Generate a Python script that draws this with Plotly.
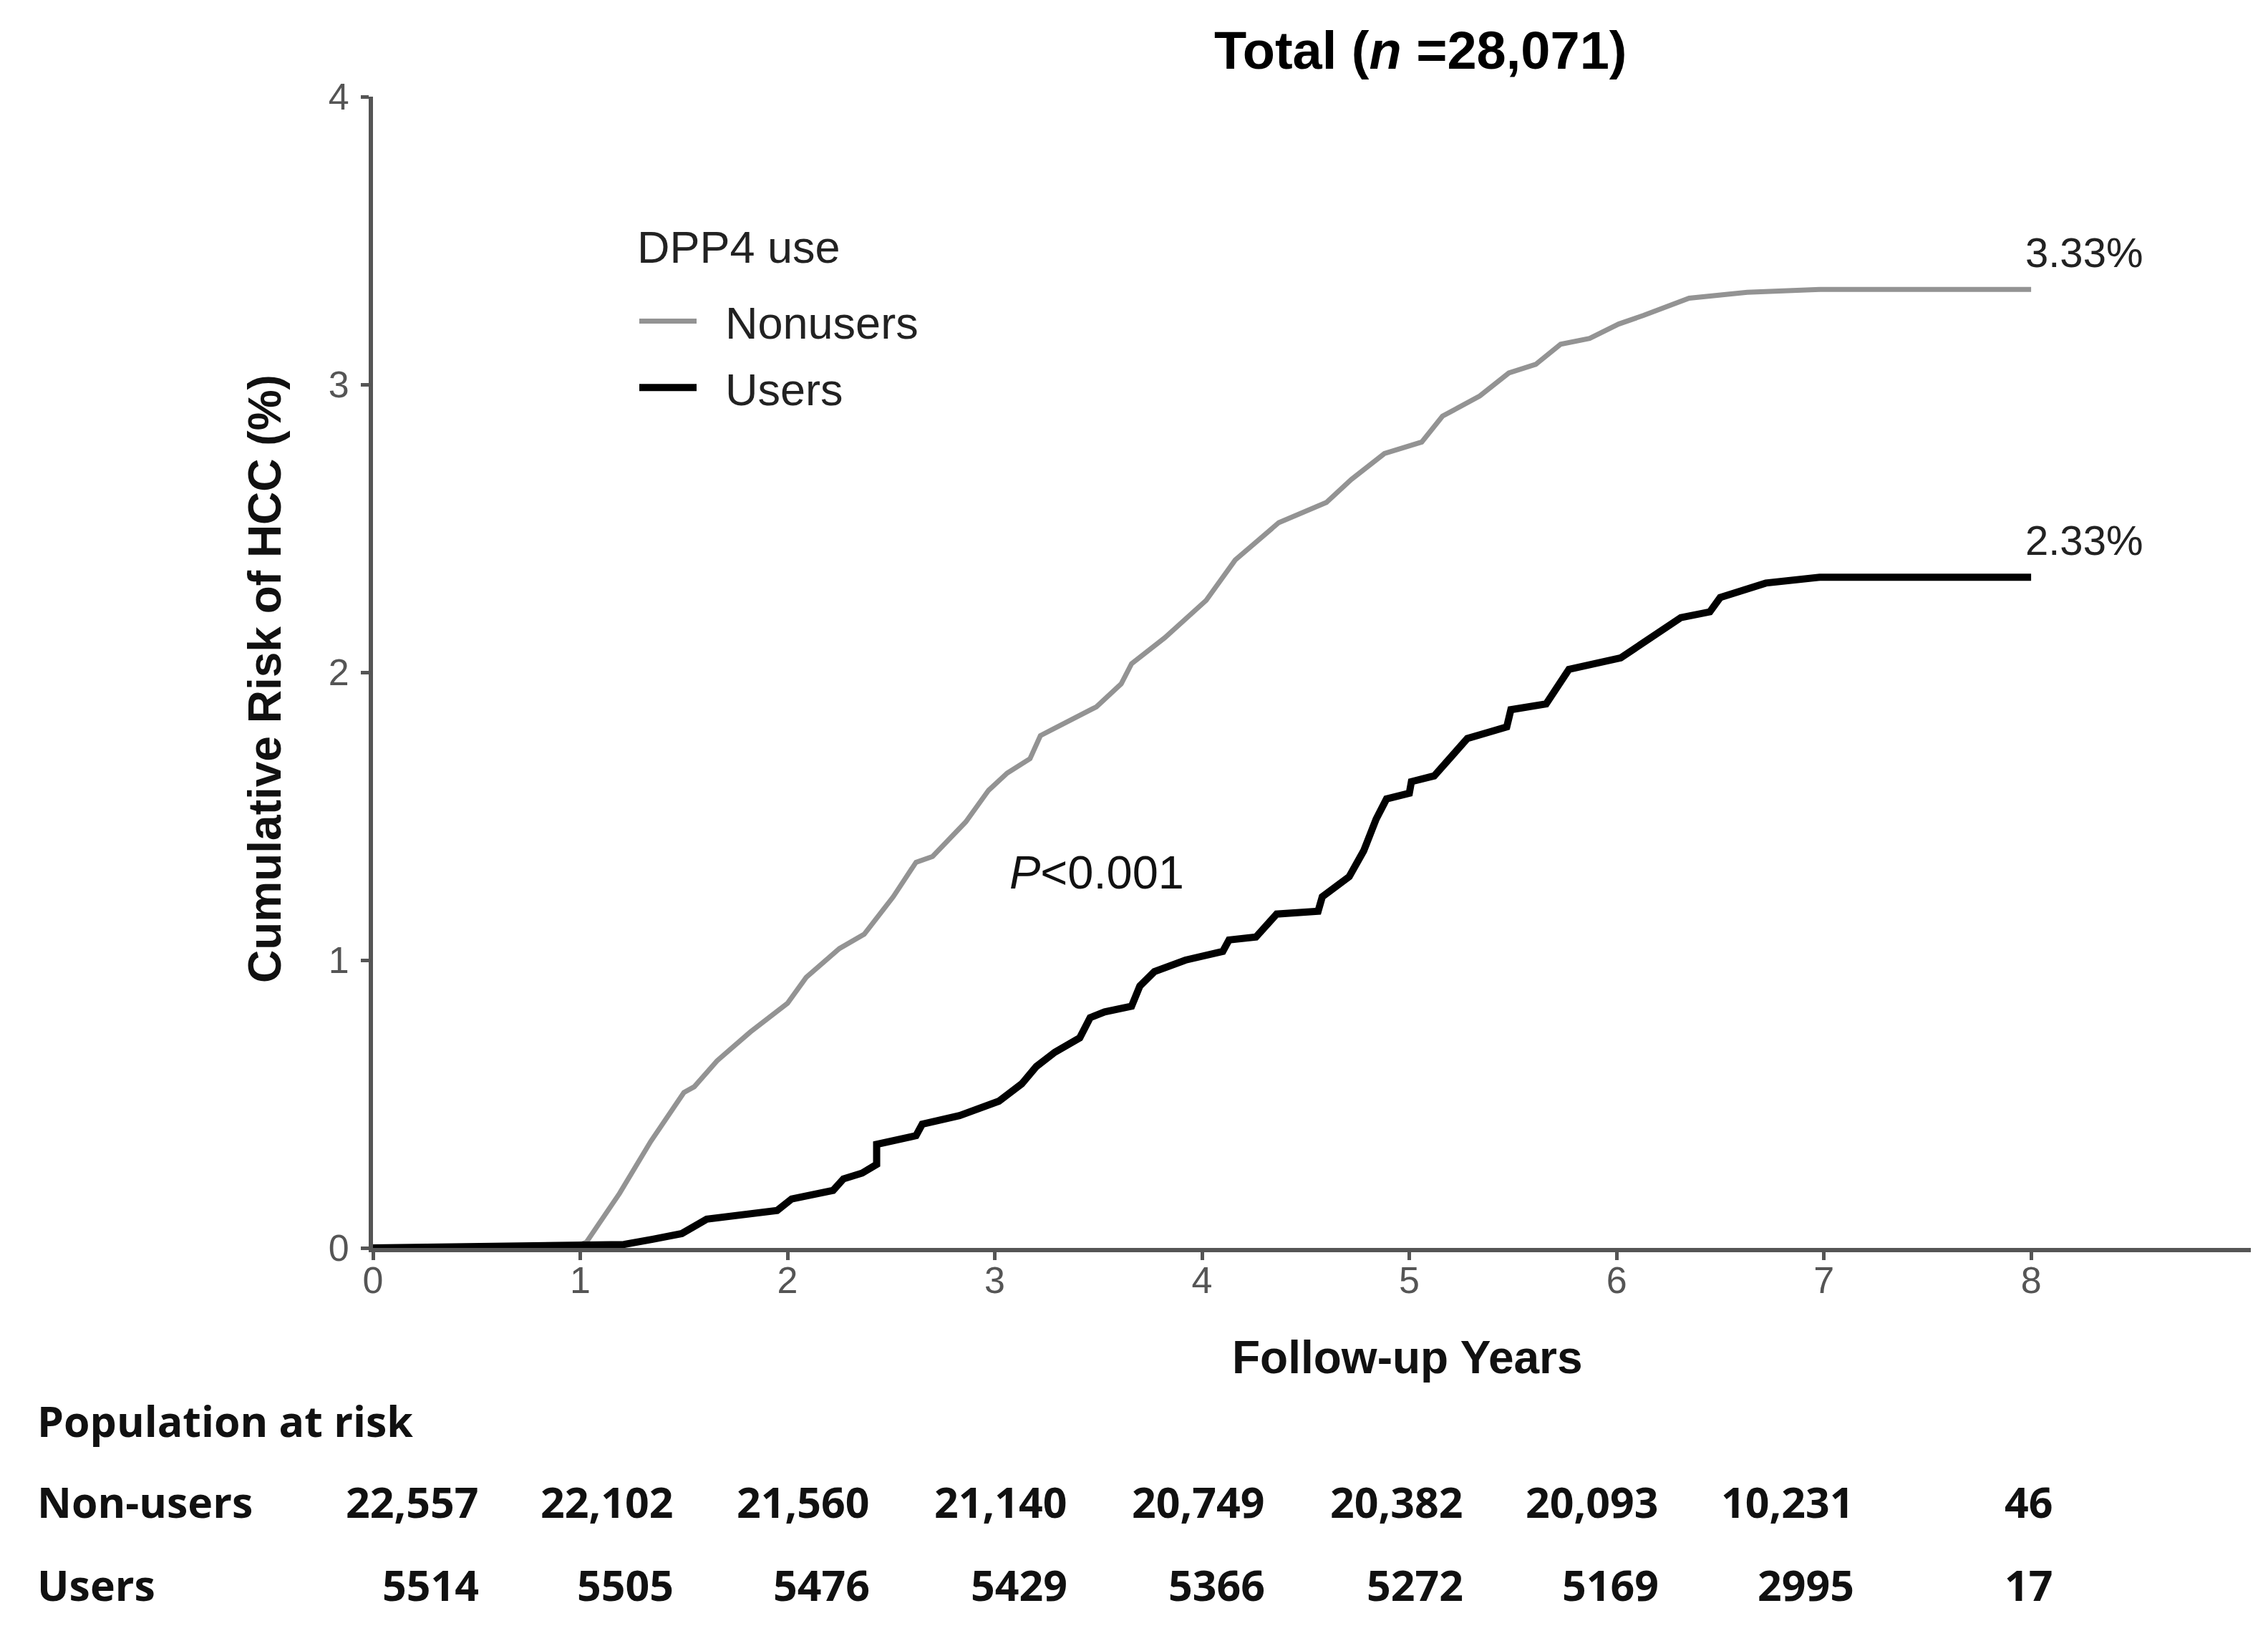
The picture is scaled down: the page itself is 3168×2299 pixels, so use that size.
import plotly.graph_objects as go

# ---------------- data ----------------
nonusers_x = [0, 0.25, 0.6, 1.0, 1.03, 1.19, 1.34, 1.50, 1.55, 1.66, 1.82, 2.0, 2.09, 2.25, 2.37,
              2.51, 2.62, 2.70, 2.86, 2.97, 3.06, 3.17, 3.22, 3.49, 3.61, 3.66, 3.82, 3.96, 4.02,
              4.16, 4.37, 4.60, 4.72, 4.88, 5.06, 5.16, 5.34, 5.48, 5.61, 5.73, 5.87, 6.01, 6.13,
              6.35, 6.63, 6.98, 8.0]
nonusers_y = [0, 0.003, 0.008, 0.012, 0.02, 0.19, 0.37, 0.54, 0.56, 0.65, 0.75, 0.85, 0.94, 1.04, 1.09,
              1.22, 1.34, 1.36, 1.48, 1.59, 1.65, 1.70, 1.78, 1.88, 1.96, 2.03, 2.12, 2.21, 2.25,
              2.39, 2.52, 2.59, 2.67, 2.76, 2.80, 2.89, 2.96, 3.04, 3.07, 3.14, 3.16, 3.21, 3.24,
              3.30, 3.32, 3.33, 3.33]

users_x = [0, 0.25, 0.6, 1.0, 1.21, 1.35, 1.49, 1.61, 1.80, 1.95, 2.02, 2.22, 2.27, 2.36, 2.43, 2.43,
           2.62, 2.65, 2.83, 3.02, 3.13, 3.20, 3.29, 3.41, 3.46, 3.53, 3.66, 3.70, 3.77, 3.92, 4.10,
           4.13, 4.26, 4.36, 4.56, 4.58, 4.71, 4.78, 4.84, 4.89, 5.00, 5.01, 5.12, 5.28, 5.47, 5.49,
           5.66, 5.77, 6.02, 6.17, 6.31, 6.45, 6.50, 6.72, 6.98, 8.0]
users_y = [0, 0.003, 0.006, 0.008, 0.012, 0.03, 0.05, 0.10, 0.12, 0.13, 0.17, 0.20, 0.24, 0.26, 0.29, 0.36,
           0.39, 0.43, 0.46, 0.51, 0.57, 0.63, 0.68, 0.73, 0.80, 0.82, 0.84, 0.91, 0.96, 1.00, 1.03,
           1.07, 1.08, 1.16, 1.17, 1.22, 1.29, 1.38, 1.49, 1.56, 1.58, 1.62, 1.64, 1.77, 1.81, 1.87,
           1.89, 2.01, 2.05, 2.12, 2.19, 2.21, 2.26, 2.31, 2.33, 2.33]

final_labels = ["3.33%", "2.33%"]
final_values = [3.33, 2.33]
final_x = 8

x_ticks = [0, 1, 2, 3, 4, 5, 6, 7, 8]
y_ticks = [0, 1, 2, 3, 4]

risk_rows = ["Non-users", "Users"]
risk_nonusers = ["22,557", "22,102", "21,560", "21,140", "20,749", "20,382", "20,093", "10,231", "46"]
risk_users = ["5514", "5505", "5476", "5429", "5366", "5272", "5169", "2995", "17"]

# ---------------- layout geometry (pixels in a 3168x2299 page) ----------------
W, H = 3168, 2299
L, R, T, B = 513, 32, 127, 564
PW, PH = W - L - R, H - T - B
XMAX = 9.06


def px_x(X):
    return (X - L) / PW


def px_y(Y):
    return (H - B - Y) / PH


ARIAL = "Liberation Sans, Arial, sans-serif"
TABLE_FONT = "Open Sans, Noto Sans, sans-serif"

fig = go.Figure()
fig.add_trace(go.Scatter(x=nonusers_x, y=nonusers_y, mode="lines", name="\u00a0\u00a0Nonusers",
                         legendgroup="a", line=dict(color="#939393", width=7)))
fig.add_trace(go.Scatter(x=users_x, y=users_y, mode="lines", name="\u00a0\u00a0Users",
                         legendgroup="b", line=dict(color="#000000", width=10)))

ann = []
# title
ann.append(dict(text="<b>Total (<i>n</i> =28,071)</b>", xref="paper", yref="paper",
                x=px_x(1976), y=px_y(63), xanchor="center", yanchor="middle", showarrow=False,
                font=dict(family=ARIAL, size=74, color="#000")))
# legend title
ann.append(dict(text="DPP4 use", xref="paper", yref="paper", x=px_x(880), y=px_y(337),
                xanchor="left", yanchor="middle", showarrow=False,
                font=dict(family=ARIAL, size=63, color="#222")))
# axis titles
ann.append(dict(text="<b>Follow-up Years</b>", xref="paper", yref="paper",
                x=px_x(1958), y=px_y(1888), xanchor="center", yanchor="middle", showarrow=False,
                font=dict(family=ARIAL, size=64, color="#111")))
ann.append(dict(text="<b>Cumulative Risk of HCC (%)</b>", xref="paper", yref="paper",
                x=px_x(362), y=px_y(940), xanchor="center", yanchor="middle", showarrow=False,
                textangle=-90, font=dict(family=ARIAL, size=64, color="#111")))
# end labels
for lab, val in zip(final_labels, final_values):
    ann.append(dict(text=lab, x=final_x, y=val, xref="x", yref="y", xanchor="left", yanchor="middle",
                    yshift=52, xshift=-10, showarrow=False, font=dict(family=ARIAL, size=58, color="#222")))
# p value
ann.append(dict(text="<i>P</i>&lt;0.001", x=3.065, y=1.305, xref="x", yref="y", xanchor="left",
                yanchor="middle", showarrow=False, font=dict(family=ARIAL, size=65, color="#111")))
# risk table
TS = 59
ann.append(dict(text="<b>Population at risk</b>", xref="paper", yref="paper", x=px_x(42), y=px_y(1976),
                xanchor="left", yanchor="middle", showarrow=False,
                font=dict(family=TABLE_FONT, size=TS, color="#111")))
row_y = [2089, 2205]
col_right = [668, 940, 1214, 1490, 1766, 2043, 2316, 2589, 2866]
for name, ry, vals in zip(risk_rows, row_y, [risk_nonusers, risk_users]):
    ann.append(dict(text="<b>" + name + "</b>", xref="paper", yref="paper", x=px_x(42), y=px_y(ry),
                    xanchor="left", yanchor="middle", showarrow=False,
                    font=dict(family=TABLE_FONT, size=TS, color="#111")))
    for cx, v in zip(col_right, vals):
        ann.append(dict(text="<b>" + v + "</b>", xref="paper", yref="paper", x=px_x(cx - 5), y=px_y(ry),
                        xanchor="right", yanchor="middle", showarrow=False,
                        font=dict(family=TABLE_FONT, size=TS, color="#111")))

fig.update_layout(
    width=W, height=H,
    margin=dict(l=L, r=R, t=T, b=B),
    paper_bgcolor="white", plot_bgcolor="white",
    showlegend=True,
    legend=dict(x=px_x(880), y=px_y(393), xanchor="left", yanchor="top",
                font=dict(family=ARIAL, size=63, color="#222"),
                itemwidth=80, bgcolor="rgba(0,0,0,0)", tracegroupgap=8),
    annotations=ann,
)
axis_common = dict(showgrid=False, zeroline=False, showline=True, linecolor="#555", linewidth=6,
                   ticks="outside", ticklen=11, tickwidth=5, tickcolor="#555",
                   tickfont=dict(family=ARIAL, size=52, color="#555"))
fig.update_xaxes(range=[0, XMAX], tickvals=x_ticks, ticktext=[str(t) for t in x_ticks],
                 ticklabelstandoff=-16, **axis_common)
fig.update_yaxes(range=[0, 4], tickvals=y_ticks, ticktext=[str(t) for t in y_ticks],
                 ticklabelstandoff=6, **axis_common)

fig.write_html("out.html")
